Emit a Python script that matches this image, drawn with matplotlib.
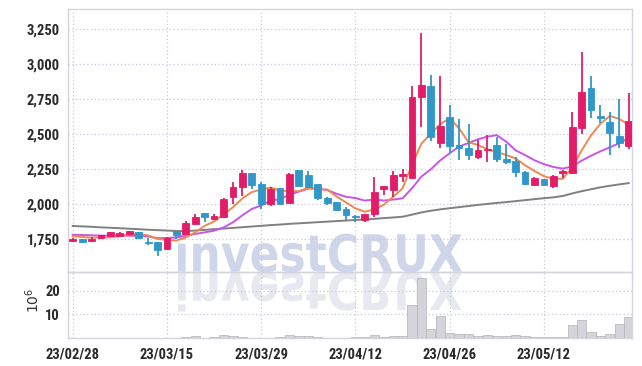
import matplotlib
matplotlib.use("Agg")
import matplotlib.pyplot as plt
import numpy as np
from matplotlib.textpath import TextPath
from matplotlib.patches import PathPatch
from matplotlib.font_manager import FontProperties, fontManager
from matplotlib.transforms import Affine2D

dates = ["23/02/28","23/03/02","23/03/03","23/03/06","23/03/07","23/03/08","23/03/09","23/03/10","23/03/13","23/03/14",
         "23/03/15","23/03/16","23/03/17","23/03/20","23/03/21","23/03/22","23/03/23","23/03/24","23/03/27","23/03/28",
         "23/03/29","23/03/30","23/03/31","23/04/03","23/04/04","23/04/05","23/04/06","23/04/07","23/04/10","23/04/11",
         "23/04/12","23/04/13","23/04/14","23/04/17","23/04/18","23/04/19","23/04/20","23/04/21","23/04/24","23/04/25",
         "23/04/26","23/04/27","23/04/28","23/05/02","23/05/03","23/05/04","23/05/08","23/05/09","23/05/10","23/05/11",
         "23/05/12","23/05/15","23/05/16","23/05/17","23/05/18","23/05/19","23/05/22","23/05/23","23/05/24","23/05/25"]

opens = [1730,1748,1733,1758,1772,1770,1780,1796,1725,1724,
         1674,1805,1784,1858,1934,1888,1906,2051,2123,2220,
         2144,2000,2110,2008,2242,2207,2142,2042,2013,1963,
         1908,1885,1925,2106,2101,2205,2187,2768,2842,2434,
         2620,2419,2400,2338,2382,2419,2321,2309,2226,2135,
         2176,2130,2226,2223,2546,2828,2624,2584,2484,2414]
highs = [1755,1750,1762,1778,1798,1795,1808,1800,1752,1728,
         1765,1808,1880,1925,1936,1925,2045,2155,2242,2222,
         2158,2123,2115,2218,2244,2233,2145,2049,2016,1975,
         1920,1928,2192,2130,2237,2247,2847,3227,2921,2918,
         2708,2606,2570,2455,2493,2481,2427,2338,2235,2190,
         2178,2205,2242,2658,3086,2916,2706,2656,2753,2792]
lows = [1725,1718,1728,1748,1768,1765,1775,1748,1705,1626,
        1672,1745,1780,1845,1872,1884,1896,2000,2058,2108,
        1962,1987,1998,2005,2128,2120,2027,1991,1948,1885,
        1872,1870,1903,2063,2047,2158,2176,2548,2452,2398,
        2362,2314,2314,2320,2302,2302,2285,2190,2135,2128,
        2133,2116,2183,2214,2498,2613,2581,2350,2398,2391]
closes = [1750,1728,1750,1775,1795,1790,1803,1752,1723,1672,
          1755,1778,1865,1905,1906,1910,2035,2120,2220,2137,
          2000,2108,2000,2214,2130,2123,2044,2004,1958,1922,
          1906,1925,2085,2128,2207,2207,2764,2849,2481,2556,
          2417,2402,2350,2386,2393,2319,2300,2226,2144,2187,
          2135,2199,2230,2548,2799,2675,2620,2510,2434,2594]

ma5 = [1768,1762,1757,1758,1760,1768,1783,1783,1773,1748,
       1741,1736,1759,1795,1842,1873,1924,1975,2038,2084,
       2102,2117,2093,2092,2090,2115,2102,2103,2052,2010,
       1967,1943,1959,1993,2050,2110,2278,2431,2502,2571,
       2613,2541,2441,2422,2390,2370,2350,2325,2276,2235,
       2198,2178,2179,2260,2382,2490,2574,2630,2608,2567]
ma10 = [1778,1776,1774,1772,1772,1772,1771,1770,1765,1754,
        1754,1759,1771,1784,1795,1807,1830,1867,1917,1963,
        1988,2021,2034,2065,2087,2109,2110,2098,2072,2050,
        2041,2023,2031,2023,2030,2039,2111,2195,2247,2311,
        2362,2410,2436,2462,2481,2492,2445,2383,2349,2312,
        2284,2264,2252,2268,2309,2344,2376,2405,2434,2474]
ma_long = [1841,1838,1835,1831,1828,1825,1821,1818,1814,1811,
           1808,1805,1804,1808,1813,1818,1822,1827,1832,1837,
           1842,1847,1851,1856,1860,1864,1868,1872,1876,1880,
           1884,1888,1892,1897,1902,1907,1922,1938,1950,1960,
           1968,1976,1984,1992,1999,2006,2012,2019,2026,2033,
           2040,2046,2056,2074,2090,2104,2118,2129,2139,2148]
volume_m = [0.2,0.2,0.2,0.2,0.2,0.2,0.2,0.2,0.2,0.2,
            0.2,0.2,0.3,0.85,0.2,0.3,1.1,1.0,0.3,0.2,
            0.2,0.2,0.3,1.1,0.85,0.85,0.3,0.2,0.2,0.2,
            0.3,0.3,1.1,0.3,0.7,0.7,14.0,25.2,3.7,9.3,
            2.0,1.7,1.7,0.85,1.1,0.85,0.85,1.1,0.85,0.5,
            0.3,0.3,0.4,5.5,7.6,2.5,0.85,1.7,5.9,8.7]

price_ticks = [1750, 2000, 2250, 2500, 2750, 3000, 3250]
vol_ticks = [10, 20]
tick_step = 10

RED = "#e31c6a"
BLUE = "#3097c8"
GRID = "#c4c8de"
SPINE = "#d4d4dc"
LBL = "#2a2a2a"

installed = {f.name for f in fontManager.ttflist}
label_font = None
for cand in ["Liberation Sans Narrow", "DejaVu Sans Condensed", "Roboto Condensed", "Liberation Sans"]:
    if cand in installed:
        label_font = cand
        break
fam = [label_font, "DejaVu Sans"] if label_font else ["DejaVu Sans"]
narrow = label_font in ("Liberation Sans Narrow", "Roboto Condensed")

W, H = 642, 366
fig = plt.figure(figsize=(W / 100, H / 100), dpi=100)
fig.patch.set_facecolor("white")

L, R = 68.3, 632.0
ax = fig.add_axes([L / W, (H - 272) / H, (R - L) / W, (272 - 9.3) / H])
axv = fig.add_axes([L / W, (H - 338) / H, (R - L) / W, (338 - 272) / H], sharex=ax)
for a in (ax, axv):
    a.set_facecolor("none")
    for s in a.spines.values():
        s.set_color(SPINE)
        s.set_linewidth(1.0)

x = np.arange(len(dates))
o = np.array(opens, float); c = np.array(closes, float)
hi = np.array(highs, float); lo = np.array(lows, float)
up = c >= o
cols = np.where(up, RED, BLUE)

ax.vlines(x, lo, hi, colors=cols, linewidth=1.3, zorder=3)
body_bottom = np.minimum(o, c)
body_h = np.maximum(np.abs(c - o), 8)
body_bottom = np.where(np.abs(c - o) < 8, (o + c) / 2 - 4, body_bottom)
ax.bar(x, body_h, bottom=body_bottom, width=0.72, color=cols, edgecolor=cols, linewidth=0.6, zorder=4)

ax.plot(x, ma_long, color="#808080", linewidth=1.4, zorder=2)
ax.plot(x, ma10, color="#c855e8", linewidth=1.4, zorder=2)
ax.plot(x, ma5, color="#f08850", linewidth=1.4, zorder=2)

ax.set_ylim(1511, 3394)
ax.set_xlim(-0.47, len(dates) - 1 + 0.35)
ax.set_yticks(price_ticks)
ax.set_yticklabels([f"{v:,}" for v in price_ticks])

axv.bar(x, volume_m, width=0.98, color="#d2d2d8", edgecolor="#b8b8c0", linewidth=0.6, alpha=0.95, zorder=3)
axv.set_ylim(0, 27.85)
axv.set_yticks(vol_ticks)
axv.set_yticklabels([str(v) for v in vol_ticks])

xt = list(range(0, len(dates), tick_step))
axv.set_xticks(xt)
axv.set_xticklabels([dates[i] for i in xt])
plt.setp(ax.get_xticklabels(), visible=False)

fsize = 10.5 if narrow else 9.5
for a in (ax, axv):
    a.grid(True, color=GRID, linestyle=(0, (1, 2)), linewidth=0.9)
    a.set_axisbelow(True)
    a.tick_params(length=0, pad=6, labelcolor=LBL)
    for t in a.get_yticklabels() + a.get_xticklabels():
        t.set_family(fam)
        t.set_fontsize(fsize)
        t.set_fontweight("bold")
axv.tick_params(axis="x", pad=7)

fig.text(33 / W, 1 - 300 / H, r"$10^6$", rotation=90, ha="center", va="center",
         fontsize=10, color="#333333")

# watermark with reflection
fp = FontProperties(family=["DejaVu Sans"], weight="bold")
tp = TextPath((0, 0), "investCRUX", size=100, prop=fp)
bb = tp.get_extents()
sx = (462 - 178) / bb.width
sy = (271.7 - 232.7) / bb.y1
tr = Affine2D().translate(-bb.x0, 0).scale(sx, sy).translate(178, H - 271.7)
fig.add_artist(PathPatch(tr.transform_path(tp), facecolor="#d0d6e9", edgecolor="none", zorder=-1,
                         transform=None))
tr2 = Affine2D().translate(-bb.x0, 0).scale(sx, -sy).translate(178, H - 272.6)
fig.add_artist(PathPatch(tr2.transform_path(tp), facecolor="#e8e9f0", edgecolor="none", zorder=-1,
                         transform=None))

fig.savefig("out.png", dpi=100, facecolor="white")
